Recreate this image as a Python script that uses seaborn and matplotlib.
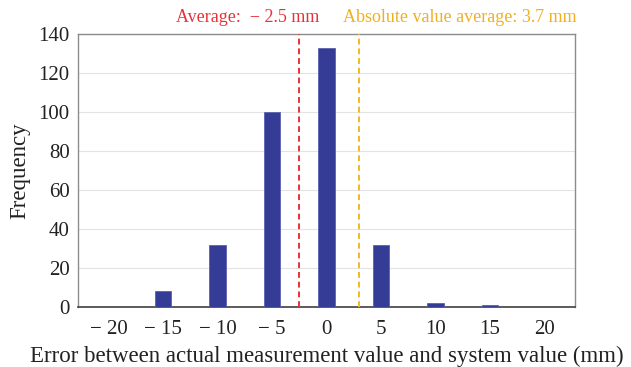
import matplotlib
matplotlib.use("Agg")
import matplotlib.pyplot as plt
import seaborn as sns
import pandas as pd

errors = [-15, -10, -5, 0, 5, 10, 15]
freq = [8, 32, 100, 133, 32, 2, 1]
xticks = [-20, -15, -10, -5, 0, 5, 10, 15, 20]
xticklabels = ["− 20", "− 15", "− 10", "− 5", "0", "5", "10", "15", "20"]
yticks = [0, 20, 40, 60, 80, 100, 120, 140]
avg = -2.5
abs_avg_pos = 3.0

sns.set_theme(style="white")
plt.rcParams['font.family'] = ['Liberation Serif', 'DejaVu Serif']

df = pd.DataFrame({"err": errors, "freq": freq})
fig = plt.figure(figsize=(6.31, 3.67), dpi=100)
ax = fig.add_axes([78/631, 1-307/367, (575-78)/631, (307-34)/367])
sns.barplot(data=df, x="err", y="freq", native_scale=True, width=0.31,
            color="#353c96", saturation=1, edgecolor="#5a62b0", linewidth=0.6, ax=ax, zorder=3)
ax.set_xlim(-22.8, 22.8)
ax.set_ylim(0, 140)
ax.set_xticks(xticks)
ax.set_xticklabels(xticklabels, fontsize=15)
ax.set_yticks(yticks)
ax.set_yticklabels([str(v) for v in yticks], fontsize=15)
ax.yaxis.grid(True, color="#e3e3e3", linewidth=0.8, zorder=0)
ax.set_axisbelow(True)
for s in ["top", "right", "left"]:
    ax.spines[s].set_color("#8c8c8c")
    ax.spines[s].set_linewidth(1.0)
ax.spines["bottom"].set_color("#404040")
ax.spines["bottom"].set_linewidth(1.2)
ax.tick_params(axis="x", length=0, pad=9, colors="#222222")
ax.tick_params(axis="y", length=0, pad=6, colors="#222222")
ax.set_xlabel("Error between actual measurement value and system value (mm)", fontsize=16.5, color="#222222", labelpad=5)
ax.set_ylabel("Frequency", fontsize=16.5, color="#222222", labelpad=6)
ax.axvline(avg, color="#e8323a", linestyle=(0, (3, 2)), linewidth=1.4, zorder=4)
ax.axvline(abs_avg_pos, color="#f2b822", linestyle=(0, (3, 2)), linewidth=1.4, zorder=4)
fig.text(176/631, 1-18/367, "Average:  − 2.5 mm", color="#e8323a", fontsize=13, ha="left", va="center")
fig.text(343/631, 1-18/367, "Absolute value average: 3.7 mm", color="#f0b020", fontsize=13, ha="left", va="center")
fig.savefig("out.png", dpi=100)
